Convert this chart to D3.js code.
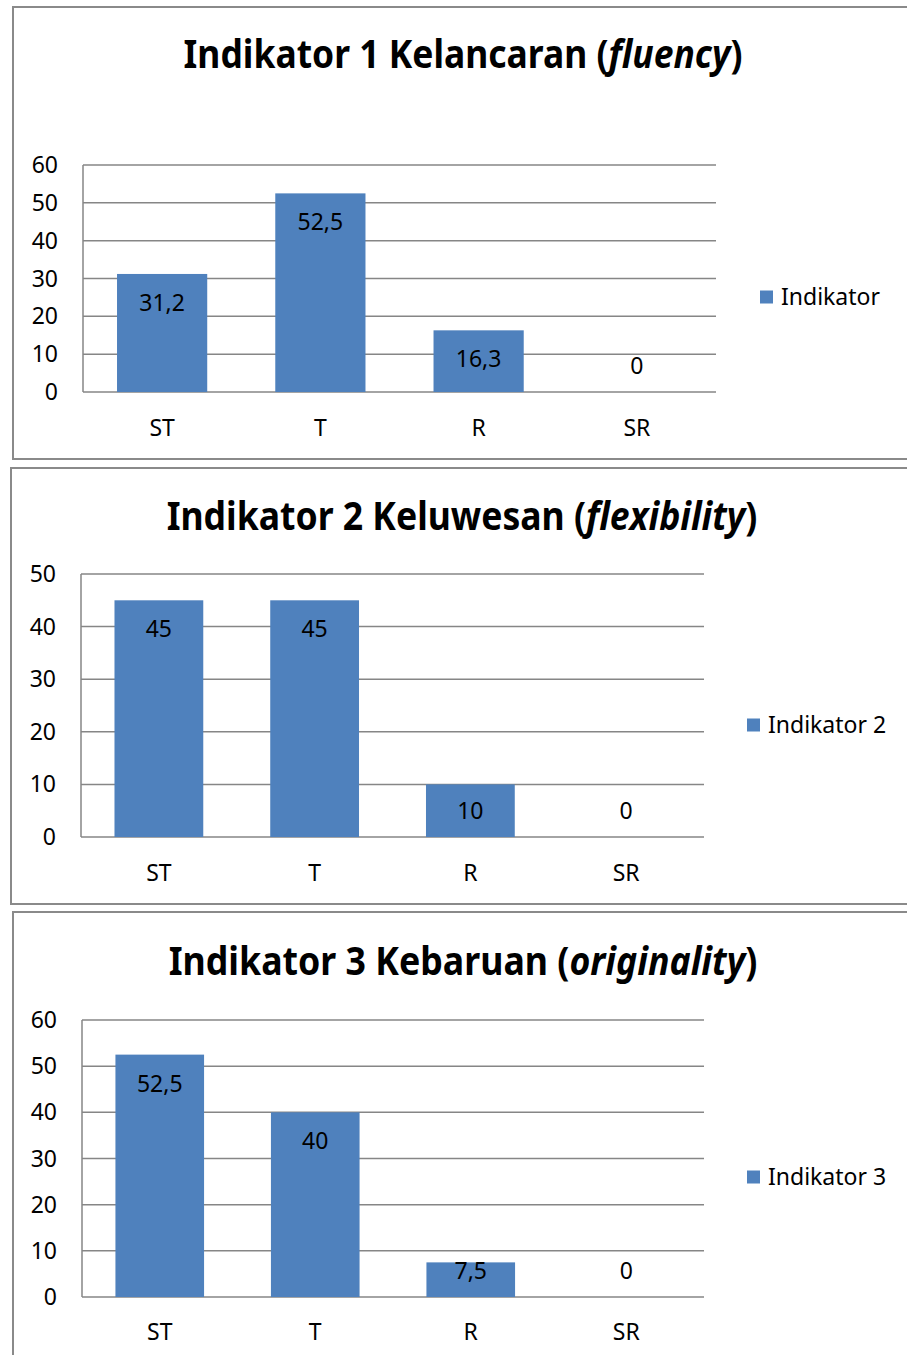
<!DOCTYPE html>
<html>
<head>
<meta charset="utf-8">
<script src="https://cdn.jsdelivr.net/npm/d3@7"></script>
<style>
  html, body { margin: 0; padding: 0; background: #fff; }
  svg { display: block; }
  text { font-family: "Noto Sans", "Open Sans", sans-serif; fill: #000; }
</style>
</head>
<body>
<svg id="chart" width="907" height="1355"></svg>
<script>
// data
const categories = ["ST", "T", "R", "SR"];
const indikator1 = [31.2, 52.5, 16.3, 0];
const indikator2 = [45, 45, 10, 0];
const indikator3 = [52.5, 40, 7.5, 0];
const ticks60 = [0, 10, 20, 30, 40, 50, 60];
const ticks50 = [0, 10, 20, 30, 40, 50];

const titles = [
    ["Indikator 1 Kelancaran (", "fluency", ")"],
    ["Indikator 2 Keluwesan (", "flexibility", ")"],
    ["Indikator 3 Kebaruan (", "originality", ")"]
];
const legendNames = ["Indikator", "Indikator 2", "Indikator 3"];

// layout for each panel (pixels)
const panels = [
    {values: indikator1, ticks: ticks60, box: [13, 7, 459], title: [463, 68, 559],
     plot: {x0: 83, x1: 716, y0: 392, y1: 165}, xLab: 428, leg: [760, 297]},
    {values: indikator2, ticks: ticks50, box: [11, 468, 904], title: [462, 530, 591],
     plot: {x0: 81, x1: 704, y0: 837, y1: 574}, xLab: 873, leg: [747, 725]},
    {values: indikator3, ticks: ticks60, box: [13, 912, 1400], title: [463, 975, 589],
     plot: {x0: 82, x1: 704, y0: 1297, y1: 1020}, xLab: 1332, leg: [747, 1177]}
];

const barColor = "#4f81bd";
const gridColor = "#868686";
const fs = "23px";
const fmt = d3.formatLocale({decimal: ",", thousands: ".", grouping: [3], currency: ["", ""]}).format("~g");

const svg = d3.select("#chart");

panels.forEach((p, i) => {

    const g = svg.append("g");

    // panel frame (right side runs off the page)
    g.append("path")
        .attr("d", `M920,${p.box[1]}H${p.box[0]}V${p.box[2]}H920`)
        .attr("fill", "none")
        .attr("stroke", "#8a8a8a")
        .attr("stroke-width", 2);

    // title, narrowed horizontally to the width seen in the picture (Calibri is narrow)
    const t = g.append("text")
        .attr("x", 0)
        .attr("y", 0)
        .attr("text-anchor", "middle")
        .style("font-weight", "bold")
        .style("font-size", "39px");
    t.append("tspan").text(titles[i][0]);
    t.append("tspan").style("font-style", "italic").text(titles[i][1]);
    t.append("tspan").text(titles[i][2]);
    const k = p.title[2] / t.node().getComputedTextLength();
    t.attr("transform", `translate(${p.title[0]},${p.title[1]}) scale(${k},1)`);

    const x = d3.scaleBand()
        .domain(categories)
        .range([p.plot.x0, p.plot.x1])
        .paddingInner(0.43)
        .paddingOuter(0.215);

    const y = d3.scaleLinear()
        .domain([0, d3.max(p.ticks)])
        .range([p.plot.y0, p.plot.y1]);

    // gridlines
    g.append("g")
        .selectAll("line")
        .data(p.ticks)
        .join("line")
            .attr("x1", p.plot.x0)
            .attr("x2", p.plot.x1)
            .attr("y1", d => y(d))
            .attr("y2", d => y(d))
            .attr("stroke", gridColor)
            .attr("stroke-width", 1.5);

    // y axis line
    g.append("line")
        .attr("x1", p.plot.x0).attr("x2", p.plot.x0)
        .attr("y1", y(0)).attr("y2", y(d3.max(p.ticks)))
        .attr("stroke", gridColor)
        .attr("stroke-width", 1.5);

    // y tick labels
    g.append("g")
        .selectAll("text")
        .data(p.ticks)
        .join("text")
            .attr("x", p.plot.x0 - 25)
            .attr("y", d => y(d))
            .attr("dy", "0.35em")
            .attr("text-anchor", "end")
            .style("font-size", fs)
            .text(d => d);

    // bars
    g.append("g")
        .selectAll("rect")
        .data(p.values)
        .join("rect")
            .attr("x", (d, k) => x(categories[k]))
            .attr("width", x.bandwidth())
            .attr("y", d => y(d))
            .attr("height", d => y(0) - y(d))
            .attr("fill", barColor);

    // value labels, inside end
    g.append("g")
        .selectAll("text")
        .data(p.values)
        .join("text")
            .attr("x", (d, k) => x(categories[k]) + x.bandwidth() / 2)
            .attr("y", d => Math.min(y(d) + 29, y(0) - 26))
            .attr("dy", "0.35em")
            .attr("text-anchor", "middle")
            .style("font-size", fs)
            .text(d => fmt(d));

    // category labels
    g.append("g")
        .selectAll("text")
        .data(categories)
        .join("text")
            .attr("x", d => x(d) + x.bandwidth() / 2)
            .attr("y", p.xLab)
            .attr("dy", "0.35em")
            .attr("text-anchor", "middle")
            .style("font-size", fs)
            .text(d => d);

    // legend
    g.append("rect")
        .attr("x", p.leg[0])
        .attr("y", p.leg[1] - 6.5)
        .attr("width", 13)
        .attr("height", 13)
        .attr("fill", barColor);
    g.append("text")
        .attr("x", p.leg[0] + 21)
        .attr("y", p.leg[1])
        .attr("dy", "0.35em")
        .style("font-size", fs)
        .text(legendNames[i]);
});
</script>
</body>
</html>
